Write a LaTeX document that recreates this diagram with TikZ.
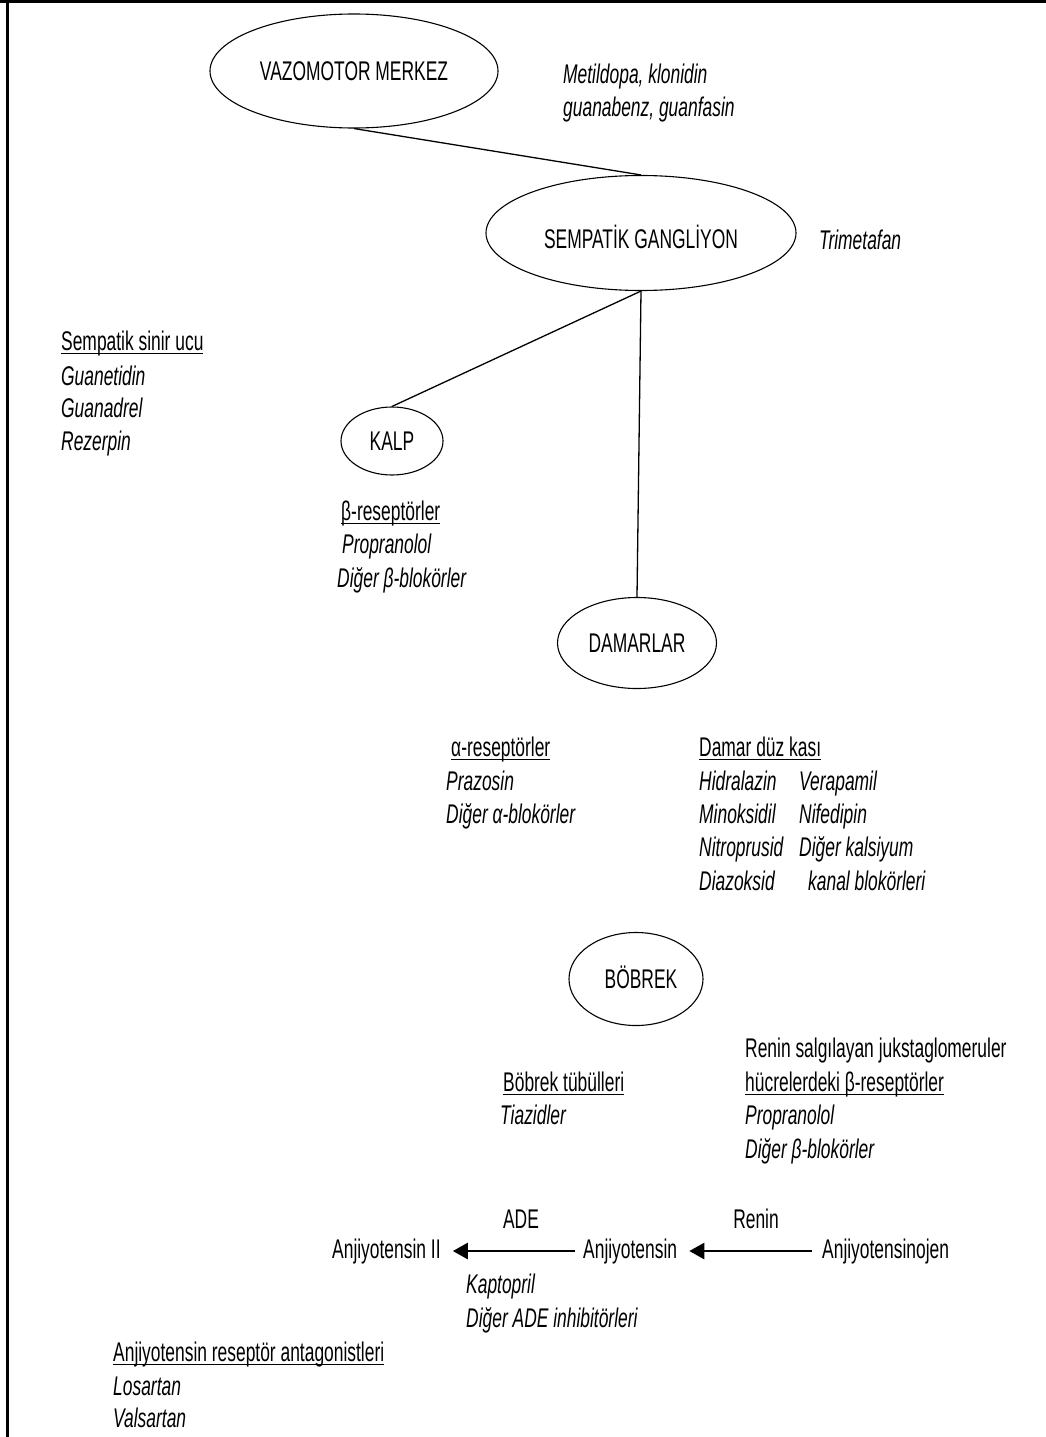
\documentclass[tikz,border=0pt]{standalone}
\usepackage{fontspec}
\setmainfont{Liberation Sans}[FakeStretch=0.645]
\usetikzlibrary{arrows.meta,shapes.geometric}
\newcommand\myul[1]{\setbox0\hbox{#1}\rlap{\rule[-4pt]{\wd0}{1.3pt}}\box0}
\begin{document}
\begin{tikzpicture}[x=1pt,y=-1pt,
  txt/.style={inner sep=0pt,anchor=base west,font=\fontsize{27}{33}\selectfont},
  drug/.style={inner sep=0pt,anchor=base west,font=\fontsize{27}{33}\selectfont\itshape},
  organ/.style={draw,ellipse,line width=1.1pt,inner sep=0pt,text height=19pt,text depth=0pt,font=\fontsize{27}{33}\selectfont},
  link/.style={line width=1.3pt},
  conv/.style={line width=2.7pt,-{Triangle[length=15pt,width=16pt]}}]
\useasboundingbox (0,0) rectangle (1046,1437);
% frame
\draw[line width=3.5pt] (0,1.75) -- (1046,1.75);
\draw[line width=3pt] (7,0) -- (7,1437);
% organs
\node[organ,minimum width=288pt,minimum height=114pt] (vaz) at (354,71) {VAZOMOTOR MERKEZ};
\node[organ,minimum width=310pt,minimum height=115pt,text height=31pt] (sem) at (641,233) {SEMPAT\.{I}K GANGL\.{I}YON};
\node[organ,minimum width=102pt,minimum height=68pt] (kalp) at (392,441) {KALP};
\node[organ,minimum width=159pt,minimum height=91pt] (dam) at (637,643) {DAMARLAR};
\node[organ,minimum width=134pt,minimum height=93pt] (bob) at (636,979) {\hspace{10pt}BÖBREK};
% connectors
\draw[link] (vaz.south) -- (sem.north);
\draw[link] (sem.south) -- (kalp.north);
\draw[link] (sem.south) -- (dam.north);
% vazomotor drugs
\node[drug] (metil) at (563,84) {Metildopa, klonidin};
\node[drug] (guana) at (563,116) {guanabenz, guanfasin};
\node[drug] (trim) at (819,249) {Trimetafan};
% sympathetic nerve ending
\node[txt] (ssu) at (61,350) {\myul{Sempatik sinir ucu}};
\node[drug] (guane) at (61,385) {Guanetidin};
\node[drug] (guand) at (61,417) {Guanadrel};
\node[drug] (rez) at (61,450) {Rezerpin};
% heart
\node[txt] (brec) at (341,520) {\myul{β-reseptörler}};
\node[drug] (prop1) at (342,553) {Propranolol};
\node[drug] (bblok1) at (337,587) {Diğer β-blokörler};
% vessels
\node[txt] (arec) at (451,756) {\myul{α-reseptörler}};
\node[drug] (praz) at (446,790) {Prazosin};
\node[drug] (ablok) at (446,823) {Diğer α-blokörler};
\node[txt] (ddk) at (699,756) {\myul{Damar düz kası}};
\node[drug] (hidr) at (699,790) {Hidralazin};
\node[drug] (mino) at (699,823) {Minoksidil};
\node[drug] (nitro) at (699,856) {Nitroprusid};
\node[drug] (diaz) at (699,890) {Diazoksid};
\node[drug] (vera) at (799,790) {Verapamil};
\node[drug] (nife) at (799,823) {Nifedipin};
\node[drug] (kals) at (799,856) {Diğer kalsiyum};
\node[drug] (kanal) at (808,890) {kanal blokörleri};
% kidney
\node[txt] (renins) at (745,1057) {Renin salgılayan jukstaglomeruler};
\node[txt] (hucre) at (745,1091) {\myul{hücrelerdeki β-reseptörler}};
\node[drug] (prop2) at (745,1124) {Propranolol};
\node[drug] (bblok2) at (745,1158) {Diğer β-blokörler};
\node[txt] (tub) at (503,1091) {\myul{Böbrek tübülleri}};
\node[drug] (tiaz) at (500,1124) {Tiazidler};
% angiotensin cascade
\node[txt,anchor=base] (ade) at (521,1228) {ADE};
\node[txt,anchor=base] (renin) at (756,1228) {Renin};
\node[txt] (anj2) at (332,1258) {Anjiyotensin II};
\node[txt] (anj) at (583,1258) {Anjiyotensin};
\node[txt] (anjo) at (822,1258) {Anjiyotensinojen};
\draw[conv,shorten <=10pt,shorten >=12pt] (anjo.west) -- (anj.east);
\draw[conv,shorten <=8pt,shorten >=12pt] (anj.west) -- (anj2.east);
\node[drug] (kapt) at (466,1293) {Kaptopril};
\node[drug] (adei) at (466,1327) {Diğer ADE inhibitörleri};
% receptor antagonists
\node[txt] (ara) at (113,1361) {\myul{Anjiyotensin reseptör antagonistleri}};
\node[drug] (los) at (113,1395) {Losartan};
\node[drug] (vals) at (113,1427) {Valsartan};
\end{tikzpicture}
\end{document}
